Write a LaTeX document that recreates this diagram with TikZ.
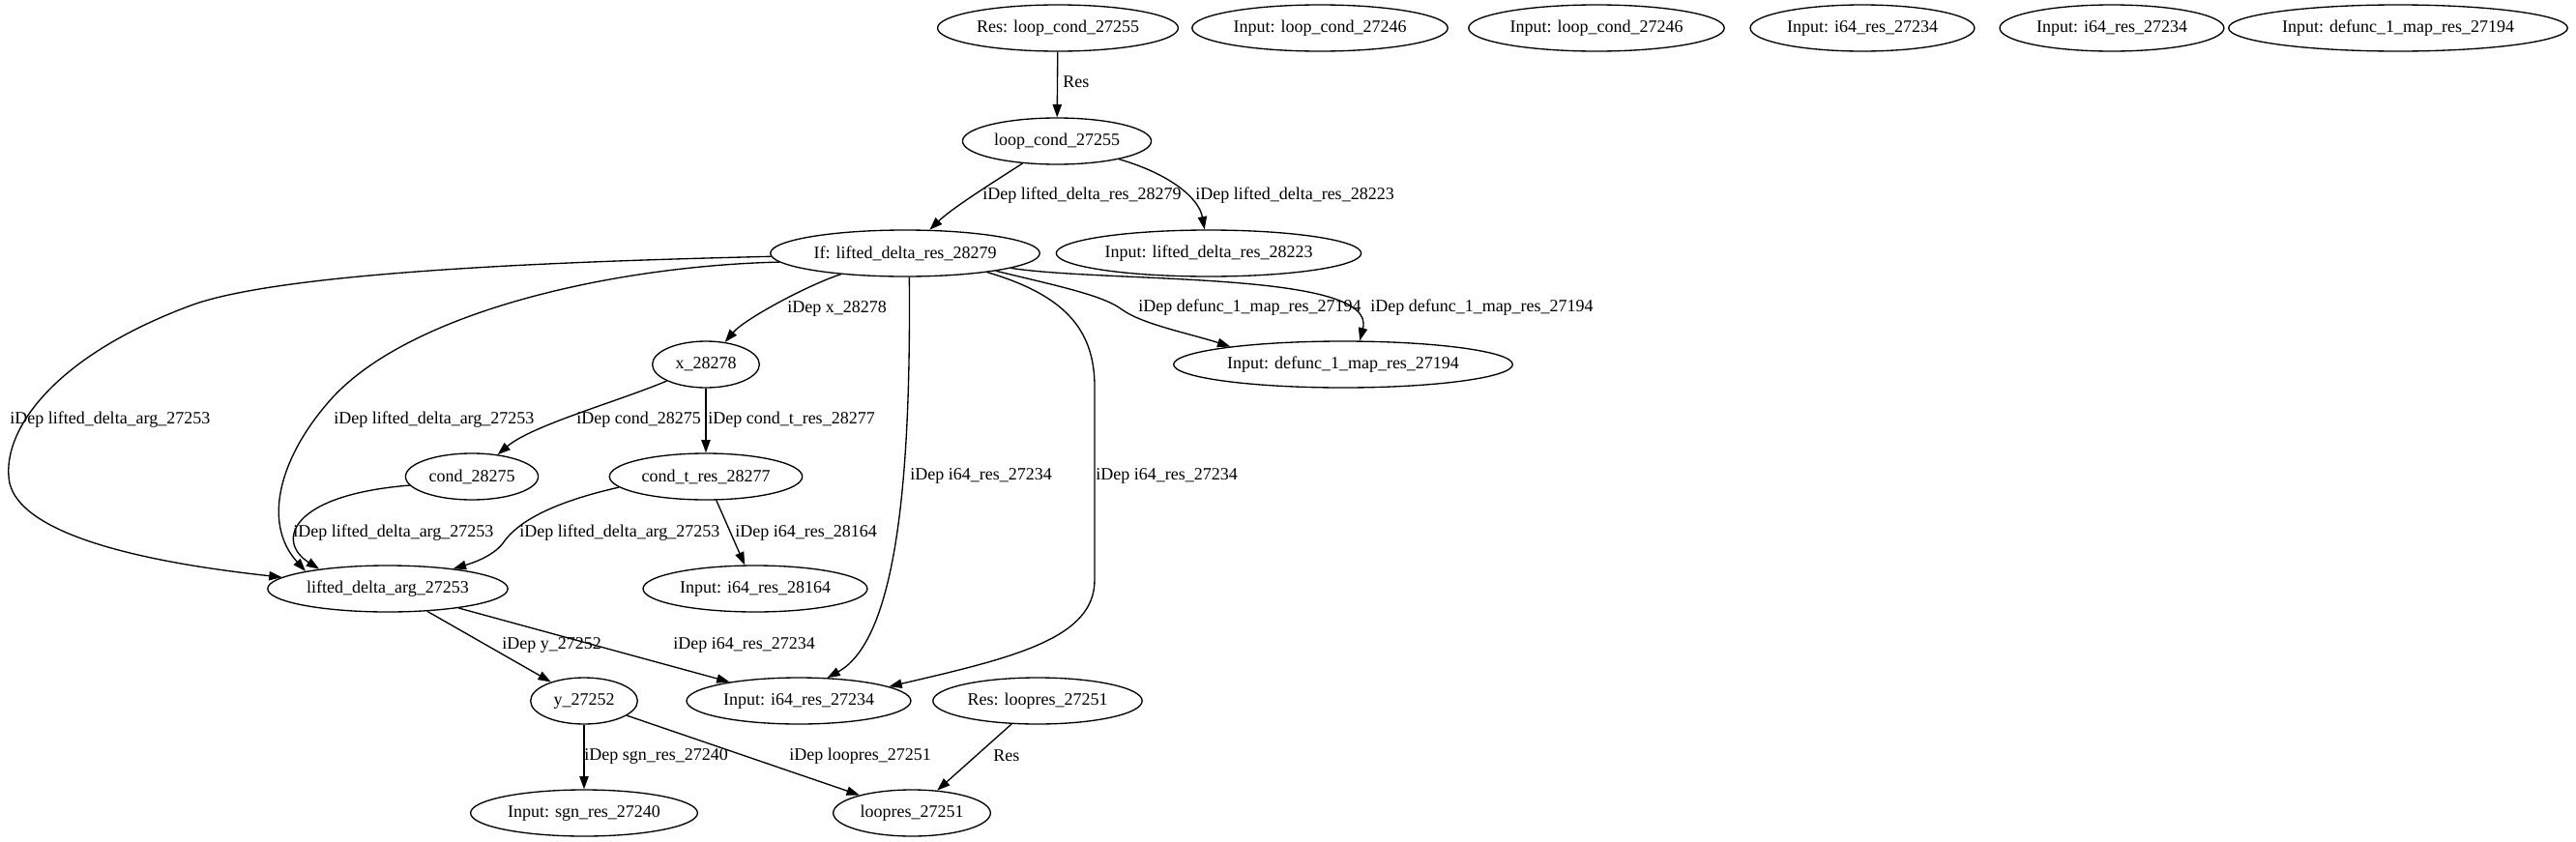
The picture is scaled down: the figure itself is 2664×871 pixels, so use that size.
\documentclass[tikz,border=0pt]{standalone}
\usepackage{fontspec}
\setmainfont{Liberation Serif}
\usetikzlibrary{arrows.meta, shapes.geometric}

\begin{document}
\begin{tikzpicture}[x=0.75pt, y=-0.75pt,
        n/.style={draw, ellipse, line width=1pt, minimum height=36pt, minimum width=83pt,
          inner xsep=3pt, inner ysep=2pt, font=\fontsize{13.5}{16}\selectfont},
        e/.style={-{Triangle[length=10pt, width=7pt]}, line width=1pt},
        l/.style={anchor=west, inner sep=0pt, font=\fontsize{13.5}{16}\selectfont}]
        \useasboundingbox (0,0) rectangle (2664,871);

        \node[n] (resLC) at (1094,29) {Res: loop\_cond\_27255};
        \foreach \x/\txt/\nm in {1365/loop\_cond\_27246/inLCa, 1651/loop\_cond\_27246/inLCb,
            1926/i64\_res\_27234/inIa, 2184/i64\_res\_27234/inIb, 2480/defunc\_1\_map\_res\_27194/inDa}
        \node[n] (\nm) at (\x,29) {Input: \txt};

        \node[n] (loopc) at (1093,146) {loop\_cond\_27255};
        \node[n] (ifn) at (936,262) {If: lifted\_delta\_res\_28279};
        \node[n] (inLDR) at (1250,262) {Input: lifted\_delta\_res\_28223};
        \node[n] (xn) at (730,377) {x\_28278};
        \node[n] (inDb) at (1389,377) {Input: defunc\_1\_map\_res\_27194};
        \node[n] (cond) at (488,493) {cond\_28275};
        \node[n] (condt) at (730,493) {cond\_t\_res\_28277};
        \node[n] (lda) at (401,609) {lifted\_delta\_arg\_27253};
        \node[n] (inIc) at (781,609) {Input: i64\_res\_28164};
        \node[n] (yn) at (604,725) {y\_27252};
        \node[n] (inId) at (826,725) {Input: i64\_res\_27234};
        \node[n] (resLR) at (1073,725) {Res: loopres\_27251};
        \node[n] (inSgn) at (604,841) {Input: sgn\_res\_27240};
        \node[n] (loopr) at (943,841) {loopres\_27251};

        \foreach \a/\b in {resLC/loopc, xn/condt, condt/inIc, lda/yn, lda/inId, yn/inSgn, yn/loopr, resLR/loopr}
        \draw[e] (\a) -- (\b);

        \draw[e] (loopc) .. controls (1025,190) and (985,215) .. (ifn);
        \draw[e] (loopc) .. controls (1210,180) and (1240,205) .. (inLDR);
        \draw[e] (ifn.349) .. controls (1090,295) and (1140,305) .. (1160,320)
          .. controls (1180,335) and (1230,345) .. (inDb.171);
        \draw[e] (ifn.352) .. controls (1150,293) and (1425,280) .. (inDb.55);
        \draw[e] (ifn) .. controls (835,295) and (770,330) .. (xn);
        \draw[e] (ifn) .. controls (600,270) and (300,280) .. (200,315)
          .. controls (50,370) and (0,450) .. (10,500) .. controls (25,560) and (180,585) .. (lda);
        \draw[e] (ifn.184) .. controls (640,275) and (430,320) .. (345,410)
          .. controls (290,470) and (270,540) .. (lda.168);
        \draw[e] (ifn.280) .. controls (942,480) and (930,660) .. (inId.39);
        \draw[e] (ifn.347) .. controls (1100,305) and (1132,340) .. (1132,400) -- (1132,600)
          .. controls (1132,660) and (1050,680) .. (inId.9);
        \draw[e] (xn) .. controls (640,415) and (550,440) .. (cond);
        \draw[e] (cond.188) .. controls (300,512) and (285,560) .. (lda.164);
        \draw[e] (condt.187) .. controls (570,520) and (535,540) .. (520,562)
          .. controls (510,575) and (490,582) .. (lda.17);

        \foreach \x/\y/\txt [count=\i] in {1099/85/Res, 1016/202/iDep lifted\_delta\_res\_28279,
            1236/202/iDep lifted\_delta\_res\_28223, 1177/318/iDep defunc\_1\_map\_res\_27194,
            1417/318/iDep defunc\_1\_map\_res\_27194, 814/319/iDep x\_28278,
            10/434/iDep lifted\_delta\_arg\_27253, 345/434/iDep lifted\_delta\_arg\_27253,
            596/434/iDep cond\_28275, 732/434/iDep cond\_t\_res\_28277,
            941/492/iDep i64\_res\_27234, 1133/492/iDep i64\_res\_27234,
            303/551/iDep lifted\_delta\_arg\_27253, 537/551/iDep lifted\_delta\_arg\_27253,
            760/551/iDep i64\_res\_28164, 519/667/iDep y\_27252, 696/667/iDep i64\_res\_27234,
            604/782/iDep sgn\_res\_27240, 816/782/iDep loopres\_27251, 1027/782/Res}
        \node[l] (l\i) at (\x,\y) {\txt};
      \end{tikzpicture}
\end{document}
